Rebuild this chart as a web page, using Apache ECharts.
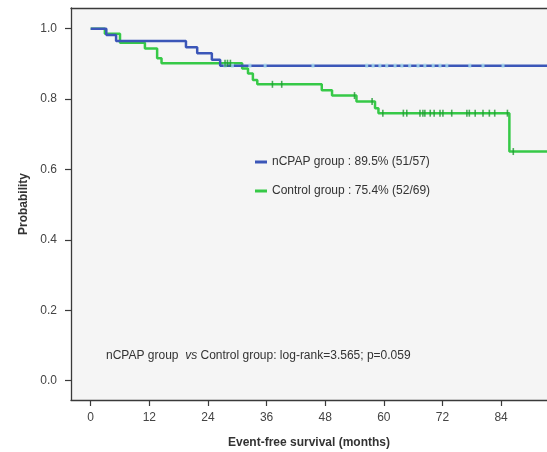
<!DOCTYPE html>
<html>
<head>
<meta charset="utf-8">
<script src="https://cdn.jsdelivr.net/npm/echarts@6/dist/echarts.min.js"></script>
<style>
html,body{margin:0;padding:0;background:#fff;}
#chart{width:547px;height:452px;}
</style>
</head>
<body>
<div id="chart"></div>
<script>
// ---- data ----
const xTicks = [0, 12, 24, 36, 48, 60, 72, 84];
const yTicks = [0, 0.2, 0.4, 0.6, 0.8, 1.0];

const ncpapName = 'nCPAP group : 89.5% (51/57)';
const ncpapTimes = [0, 3.2, 5.2, 19.5, 21.8, 24.8, 26.5, 95];
const ncpapSurv  = [1.0, 0.982, 0.965, 0.947, 0.930, 0.912, 0.895, 0.895];
const ncpapCensorTimes = [27.5, 29.0, 32.6, 35.7, 45.5, 56.5, 57.8, 59.2, 60.6, 62.3, 63.7, 65.3, 67.0, 68.4, 70.1, 71.5, 72.9, 77.6, 80.3, 84.4];
const ncpapCensorSurv  = [0.895, 0.895, 0.895, 0.895, 0.895, 0.895, 0.895, 0.895, 0.895, 0.895, 0.895, 0.895, 0.895, 0.895, 0.895, 0.895, 0.895, 0.895, 0.895, 0.895];

const ctrlName = 'Control group : 75.4% (52/69)';
const ctrlTimes = [0, 2.9, 6.0, 11.1, 13.6, 14.5, 31.0, 32.2, 33.2, 34.1, 47.3, 49.4, 54.4, 58.2, 58.9, 85.7, 95];
const ctrlSurv  = [1.0, 0.986, 0.960, 0.944, 0.916, 0.902, 0.887, 0.873, 0.854, 0.842, 0.825, 0.810, 0.793, 0.774, 0.760, 0.651, 0.651];
const ctrlCensorTimes = [27.5, 28.0, 28.6, 37.2, 39.1, 54.0, 57.6, 59.8, 64.0, 64.7, 67.4, 68.0, 68.4, 69.5, 70.3, 71.5, 72.1, 73.9, 77.0, 77.5, 78.7, 80.3, 81.6, 82.7, 85.3, 86.5];
const ctrlCensorSurv  = [0.902, 0.902, 0.902, 0.842, 0.842, 0.810, 0.793, 0.760, 0.760, 0.760, 0.760, 0.760, 0.760, 0.760, 0.760, 0.760, 0.760, 0.760, 0.760, 0.760, 0.760, 0.760, 0.760, 0.760, 0.760, 0.651];

const zip = (a, b) => a.map((v, i) => [v, b[i]]);

const FONT = 'Liberation Sans, Arial, Helvetica, sans-serif';
const BLUE = '#3b56b8';
const GREEN = '#36c947';
const AXIS = '#3a3a3a';

const chart = echarts.init(document.getElementById('chart'), null, {renderer: 'canvas'});
chart.setOption({
  backgroundColor: '#ffffff',
  animation: false,
  textStyle: {fontFamily: FONT},
  grid: {
    left: 71, right: 0, top: 8, bottom: 52,
    outerBoundsMode: 'none', containLabel: false,
    show: true, backgroundColor: '#f5f5f5', borderWidth: 0
  },
  xAxis: [{
    type: 'value', min: -4.03, max: 93.4,
    name: 'Event-free survival (months)', nameLocation: 'middle', nameGap: 37,
    nameTextStyle: {fontFamily: FONT, fontSize: 12, fontWeight: 'bold', color: '#333'},
    axisLine: {show: true, onZero: false, lineStyle: {color: AXIS, width: 1.3}},
    axisTick: {show: true, length: 6, lineStyle: {color: AXIS, width: 1.2}, customValues: xTicks},
    axisLabel: {fontFamily: FONT, fontSize: 12, color: '#444', margin: 12, customValues: xTicks,
      formatter: v => String(v)},
    splitLine: {show: false}
  }, {
    type: 'value', position: 'top', min: -4.03, max: 93.4,
    axisLine: {show: true, onZero: false, lineStyle: {color: AXIS, width: 1.3}},
    axisTick: {show: false}, axisLabel: {show: false}, splitLine: {show: false}
  }],
  yAxis: {
    type: 'value', min: -0.0548, max: 1.0588,
    name: 'Probability', nameLocation: 'middle', nameGap: 41,
    nameTextStyle: {fontFamily: FONT, fontSize: 12, fontWeight: 'bold', color: '#333'},
    axisLine: {show: true, onZero: false, lineStyle: {color: AXIS, width: 1.3}},
    axisTick: {show: true, length: 6, lineStyle: {color: AXIS, width: 1.2}, customValues: yTicks},
    axisLabel: {fontFamily: FONT, fontSize: 12, color: '#444', margin: 14, customValues: yTicks,
      formatter: v => v.toFixed(1)},
    splitLine: {show: false}
  },
  legend: {
    data: [ncpapName, ctrlName],
    orient: 'vertical', left: 250, top: 150,
    icon: 'rect', itemWidth: 12, itemHeight: 3, itemGap: 15,
    textStyle: {fontFamily: FONT, fontSize: 12, color: '#333', lineHeight: 14}
  },
  graphic: [{
    type: 'text', left: 106, top: 350,
    style: {
      text: '{a|nCPAP group  }{b|vs}{a| Control group: log-rank=3.565; p=0.059}',
      rich: {
        a: {fontFamily: FONT, fontSize: 12, fill: '#333'},
        b: {fontFamily: FONT, fontSize: 12, fontStyle: 'italic', fill: '#333'}
      }
    }
  }],
  series: [
    {
      name: ncpapName, type: 'line', step: 'end', data: zip(ncpapTimes, ncpapSurv),
      showSymbol: false, symbol: 'none', lineStyle: {color: BLUE, width: 2.5}, itemStyle: {color: BLUE}, z: 3
    },
    {
      name: ctrlName, type: 'line', step: 'end', data: zip(ctrlTimes, ctrlSurv),
      showSymbol: false, symbol: 'none', lineStyle: {color: GREEN, width: 2.5}, itemStyle: {color: GREEN}, z: 2
    },
    {
      name: 'nCPAP censored', type: 'scatter', data: zip(ncpapCensorTimes, ncpapCensorSurv),
      symbol: 'rect', symbolSize: [3, 4], itemStyle: {color: '#a9dcef'}, z: 4, silent: true
    },
    {
      name: 'Control censored', type: 'scatter', data: zip(ctrlCensorTimes, ctrlCensorSurv),
      symbol: 'rect', symbolSize: [1.6, 7], itemStyle: {color: '#1f9a32'}, z: 4, silent: true
    }
  ]
});
</script>
</body>
</html>
